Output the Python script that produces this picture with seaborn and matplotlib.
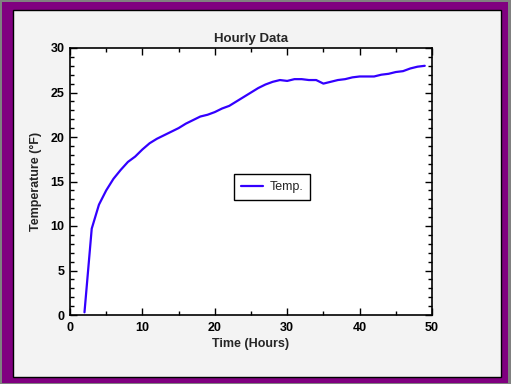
import pandas as pd
import matplotlib
matplotlib.use('Agg')
import matplotlib.pyplot as plt
import seaborn as sns
from matplotlib.patches import Rectangle
from matplotlib.ticker import MultipleLocator

# hourly temperature readings
hours = [2, 3, 4, 5, 6, 7, 8, 9, 10, 11, 12, 13, 14, 15, 16, 17, 18, 19, 20,
         21, 22, 23, 24, 25, 26, 27, 28, 29, 30, 31, 32, 33, 34, 35, 36, 37,
         38, 39, 40, 41, 42, 43, 44, 45, 46, 47, 48, 49]
temps = [0.3, 9.7, 12.4, 14.0, 15.3, 16.3, 17.2, 17.8, 18.6, 19.3, 19.8, 20.2,
         20.6, 21.0, 21.5, 21.9, 22.3, 22.5, 22.8, 23.2, 23.5, 24.0, 24.5, 25.0,
         25.5, 25.9, 26.2, 26.4, 26.3, 26.5, 26.5, 26.4, 26.4, 26.0, 26.2, 26.4,
         26.5, 26.7, 26.8, 26.8, 26.8, 27.0, 27.1, 27.3, 27.4, 27.7, 27.9, 28.0]

df = pd.DataFrame({'Time': hours, 'Temp': temps})

sns.set_style('ticks')
plt.rcParams['font.family'] = ['Arial', 'Liberation Sans', 'DejaVu Sans']

fig = plt.figure(figsize=(5.11, 3.84), dpi=100)
W, H = 511, 384

# frame: gray outer edge, purple band, light gray panel with black border
fig.patches.append(Rectangle((0, 0), 1, 1, transform=fig.transFigure,
                             facecolor='#808080', edgecolor='none', zorder=-3))
fig.patches.append(Rectangle((2 / W, 1 / H), 506 / W, 381 / H, transform=fig.transFigure,
                             facecolor='#800080', edgecolor='none', zorder=-2))
fig.patches.append(Rectangle((13 / W, 7 / H), 488 / W, 367 / H, transform=fig.transFigure,
                             facecolor='#f3f3f3', edgecolor='black', linewidth=1, zorder=-1))

ax = fig.add_axes([70 / W, (H - 315) / H, 362 / W, 267 / H])
ax.set_facecolor('white')
sns.lineplot(data=df, x='Time', y='Temp', ax=ax, color='#3300ff', linewidth=1.6,
             label='Temp.')

ax.set_xlim(0, 50)
ax.set_ylim(0, 30)
ax.xaxis.set_major_locator(MultipleLocator(10))
ax.xaxis.set_minor_locator(MultipleLocator(5))
ax.yaxis.set_major_locator(MultipleLocator(5))
ax.yaxis.set_minor_locator(MultipleLocator(1))
ax.tick_params(which='both', direction='in', top=True, right=True, width=1,
               labelsize=9, colors='black')
ax.tick_params(axis='x', which='major', pad=5)
ax.tick_params(axis='y', which='major', pad=4)
ax.tick_params(which='major', length=5)
ax.tick_params(which='minor', length=3)
for lbl in ax.get_xticklabels() + ax.get_yticklabels():
    lbl.set_fontweight('bold')
for s in ax.spines.values():
    s.set_linewidth(1.2)
    s.set_color('black')

ax.set_title('Hourly Data', fontsize=9.5, fontweight='bold', pad=4)
ax.set_xlabel('Time (Hours)', fontsize=9, fontweight='bold', labelpad=3)
ax.set_ylabel('Temperature (°F)', fontsize=9, fontweight='bold', labelpad=6)

leg = ax.legend(loc='center', bbox_to_anchor=(0.558, 0.479), fancybox=False,
                shadow=False, framealpha=1, edgecolor='black', fontsize=9,
                handlelength=1.8, handletextpad=0.5, borderpad=0.55)
leg.get_frame().set_linewidth(1)

fig.savefig('out.png', dpi=100)
